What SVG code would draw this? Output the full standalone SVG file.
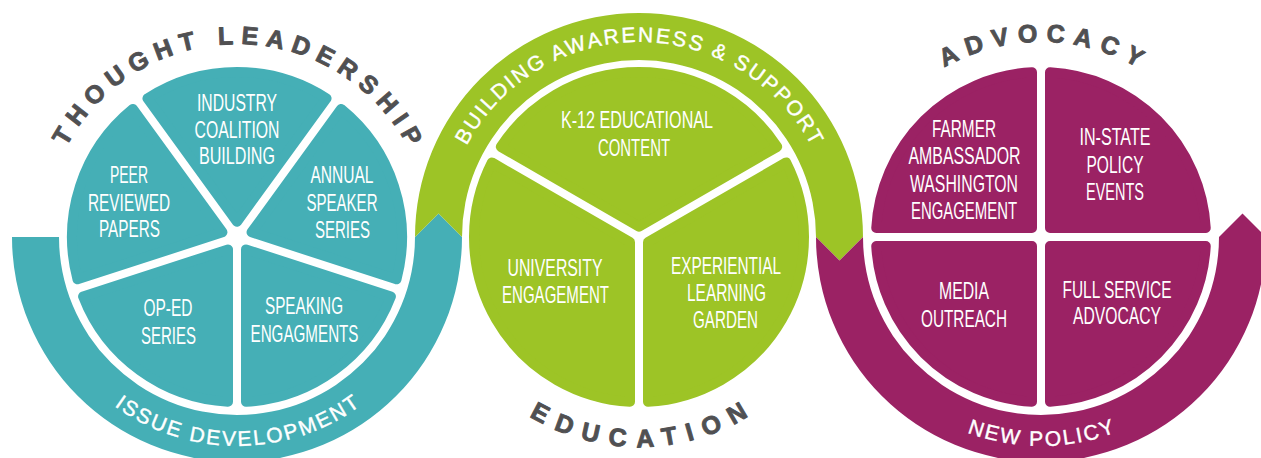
<svg xmlns="http://www.w3.org/2000/svg" xmlns:xlink="http://www.w3.org/1999/xlink" width="1261" height="458" viewBox="0 0 1261 458">
<style>
.tealf{fill:#45AFB6}
.greenf{fill:#9DC426}
.magf{fill:#9B2264}
.seg-t{fill:#45AFB6;stroke:#45AFB6;stroke-width:10;stroke-linejoin:round}
.seg-g{fill:#9DC426;stroke:#9DC426;stroke-width:10;stroke-linejoin:round}
.seg-m{fill:#9B2264;stroke:#9B2264;stroke-width:10;stroke-linejoin:round}
.lbl{font-family:"Liberation Sans",Arial,sans-serif;font-size:24px;fill:#ffffff;text-anchor:middle}
.title{font-family:"Liberation Sans",Arial,sans-serif;font-size:25px;font-weight:bold;fill:#505052;stroke:#505052;stroke-width:0.9px;stroke-linejoin:round;text-anchor:middle}
.band{font-family:"Liberation Sans",Arial,sans-serif;font-size:21px;fill:#ffffff;stroke:#ffffff;stroke-width:0.4px;text-anchor:middle;letter-spacing:2.2px}
</style>
<defs>
<path id="pTL" d="M 44 237 A 193 193 0 0 1 430 237"/>
<path id="pADV" d="M 846 237 A 195 195 0 0 1 1236 237"/>
<path id="pBA" d="M 444 237 A 195 195 0 0 1 834 237"/>
<path id="pID" d="M 28 237 A 209 209 0 0 0 446 237"/>
<path id="pED" d="M 429 237 A 210 210 0 0 0 849 237"/>
<path id="pNP" d="M 832 237 A 209 209 0 0 0 1250 237"/>
</defs>

<g id="connectors">
<g id="band-issue-development">
<path class="tealf" d="M 12 237 A 225 225 0 0 0 462 237 L 438.5 213.5 L 415 237 A 178 178 0 0 1 59 237 Z"/>
<text class="band"><textPath xlink:href="#pID" href="#pID" startOffset="329.5">ISSUE DEVELOPMENT</textPath></text>
</g>
<g id="band-building-awareness">
<path class="greenf" d="M 415 237 L 438.5 213.5 L 462 237 A 177 177 0 0 1 816 237 L 839.5 260.5 L 863 237 A 224 224 0 0 0 415 237 Z"/>
<text class="band"><textPath xlink:href="#pBA" href="#pBA" startOffset="307.4">BUILDING AWARENESS &amp; SUPPORT</textPath></text>
</g>
<g id="band-new-policy">
<path class="magf" d="M 816 237 L 839.5 260.5 L 863 237 A 178 178 0 0 0 1219 237 L 1242.5 213.5 L 1266 237 A 225 225 0 0 1 816 237 Z"/>
<text class="band"><textPath xlink:href="#pNP" href="#pNP" startOffset="329.5">NEW POLICY</textPath></text>
</g>
</g>

<g id="title-thought-leadership">
<text class="title" style="letter-spacing:7.5px"><textPath xlink:href="#pTL" href="#pTL" startOffset="306.9">THOUGHT LEADERSHIP</textPath></text>
</g>
<g id="title-education">
<text class="title" style="letter-spacing:10.5px"><textPath xlink:href="#pED" href="#pED" startOffset="335">EDUCATION</textPath></text>
</g>
<g id="title-advocacy">
<text class="title" style="letter-spacing:8.5px"><textPath xlink:href="#pADV" href="#pADV" startOffset="310.5">ADVOCACY</textPath></text>
</g>

<!-- Thought leadership pie -->
<g id="industry-coalition-building">
<path class="seg-t" d="M 237 221.69 L 147.44 98.42 A 165 165 0 0 1 326.56 98.42 Z"/>
<text class="lbl" x="237" y="111" textLength="80" lengthAdjust="spacingAndGlyphs">INDUSTRY</text>
<text class="lbl" x="237" y="138" textLength="85" lengthAdjust="spacingAndGlyphs">COALITION</text>
<text class="lbl" x="237" y="164" textLength="76" lengthAdjust="spacingAndGlyphs">BUILDING</text>
</g>
<g id="annual-speaker-series">
<path class="seg-t" d="M 251.56 232.27 L 341.12 109 A 165 165 0 0 1 396.47 279.35 Z"/>
<text class="lbl" x="342" y="183" textLength="63" lengthAdjust="spacingAndGlyphs">ANNUAL</text>
<text class="lbl" x="342" y="211" textLength="71" lengthAdjust="spacingAndGlyphs">SPEAKER</text>
<text class="lbl" x="342.5" y="238" textLength="55" lengthAdjust="spacingAndGlyphs">SERIES</text>
</g>
<g id="speaking-engagments">
<path class="seg-t" d="M 246 249.39 L 390.91 296.47 A 165 165 0 0 1 246 401.75 Z"/>
<text class="lbl" x="304" y="314" textLength="78" lengthAdjust="spacingAndGlyphs">SPEAKING</text>
<text class="lbl" x="304.5" y="342" textLength="108" lengthAdjust="spacingAndGlyphs">ENGAGMENTS</text>
</g>
<g id="op-ed-series">
<path class="seg-t" d="M 228 249.39 L 228 401.75 A 165 165 0 0 1 83.09 296.47 Z"/>
<text class="lbl" x="168" y="316" textLength="49" lengthAdjust="spacingAndGlyphs">OP-ED</text>
<text class="lbl" x="168.5" y="344" textLength="55" lengthAdjust="spacingAndGlyphs">SERIES</text>
</g>
<g id="peer-reviewed-papers">
<path class="seg-t" d="M 222.44 232.27 L 77.53 279.35 A 165 165 0 0 1 132.88 109 Z"/>
<text class="lbl" x="129" y="183" textLength="38" lengthAdjust="spacingAndGlyphs">PEER</text>
<text class="lbl" x="129" y="211" textLength="82" lengthAdjust="spacingAndGlyphs">REVIEWED</text>
<text class="lbl" x="129.5" y="237" textLength="61" lengthAdjust="spacingAndGlyphs">PAPERS</text>
</g>

<!-- Education pie -->
<g id="k12-educational-content">
<path class="seg-g" d="M 639 226.61 L 500.82 146.83 A 165 165 0 0 1 777.18 146.83 Z"/>
<text class="lbl" x="637" y="128" textLength="152" lengthAdjust="spacingAndGlyphs">K-12 EDUCATIONAL</text>
<text class="lbl" x="634" y="156" textLength="72" lengthAdjust="spacingAndGlyphs">CONTENT</text>
</g>
<g id="experiential-learning-garden">
<path class="seg-g" d="M 648 242.2 L 786.18 162.42 A 165 165 0 0 1 648 401.75 Z"/>
<text class="lbl" x="726" y="274" textLength="110" lengthAdjust="spacingAndGlyphs">EXPERIENTIAL</text>
<text class="lbl" x="726.5" y="301" textLength="79" lengthAdjust="spacingAndGlyphs">LEARNING</text>
<text class="lbl" x="725.5" y="328" textLength="65" lengthAdjust="spacingAndGlyphs">GARDEN</text>
</g>
<g id="university-engagement">
<path class="seg-g" d="M 630 242.2 L 630 401.75 A 165 165 0 0 1 491.82 162.42 Z"/>
<text class="lbl" x="555" y="276" textLength="95" lengthAdjust="spacingAndGlyphs">UNIVERSITY</text>
<text class="lbl" x="555.5" y="303" textLength="107" lengthAdjust="spacingAndGlyphs">ENGAGEMENT</text>
</g>

<!-- Advocacy pie -->
<g id="farmer-ambassador">
<path class="seg-m" d="M 1032 228 L 876.25 228 A 165 165 0 0 1 1032 72.25 Z"/>
<text class="lbl" x="964" y="137" textLength="64" lengthAdjust="spacingAndGlyphs">FARMER</text>
<text class="lbl" x="964.5" y="164" textLength="112" lengthAdjust="spacingAndGlyphs">AMBASSADOR</text>
<text class="lbl" x="964" y="192" textLength="108" lengthAdjust="spacingAndGlyphs">WASHINGTON</text>
<text class="lbl" x="964" y="219" textLength="106" lengthAdjust="spacingAndGlyphs">ENGAGEMENT</text>
</g>
<g id="in-state-policy-events">
<path class="seg-m" d="M 1050 228 L 1050 72.25 A 165 165 0 0 1 1205.75 228 Z"/>
<text class="lbl" x="1115" y="145" textLength="71" lengthAdjust="spacingAndGlyphs">IN-STATE</text>
<text class="lbl" x="1115" y="173" textLength="57" lengthAdjust="spacingAndGlyphs">POLICY</text>
<text class="lbl" x="1115" y="200" textLength="58" lengthAdjust="spacingAndGlyphs">EVENTS</text>
</g>
<g id="full-service-advocacy">
<path class="seg-m" d="M 1050 246 L 1205.75 246 A 165 165 0 0 1 1050 401.75 Z"/>
<text class="lbl" x="1117" y="298" textLength="109" lengthAdjust="spacingAndGlyphs">FULL SERVICE</text>
<text class="lbl" x="1117" y="324" textLength="88" lengthAdjust="spacingAndGlyphs">ADVOCACY</text>
</g>
<g id="media-outreach">
<path class="seg-m" d="M 1032 246 L 1032 401.75 A 165 165 0 0 1 876.25 246 Z"/>
<text class="lbl" x="964" y="299" textLength="50" lengthAdjust="spacingAndGlyphs">MEDIA</text>
<text class="lbl" x="964" y="327" textLength="86" lengthAdjust="spacingAndGlyphs">OUTREACH</text>
</g>
</svg>
